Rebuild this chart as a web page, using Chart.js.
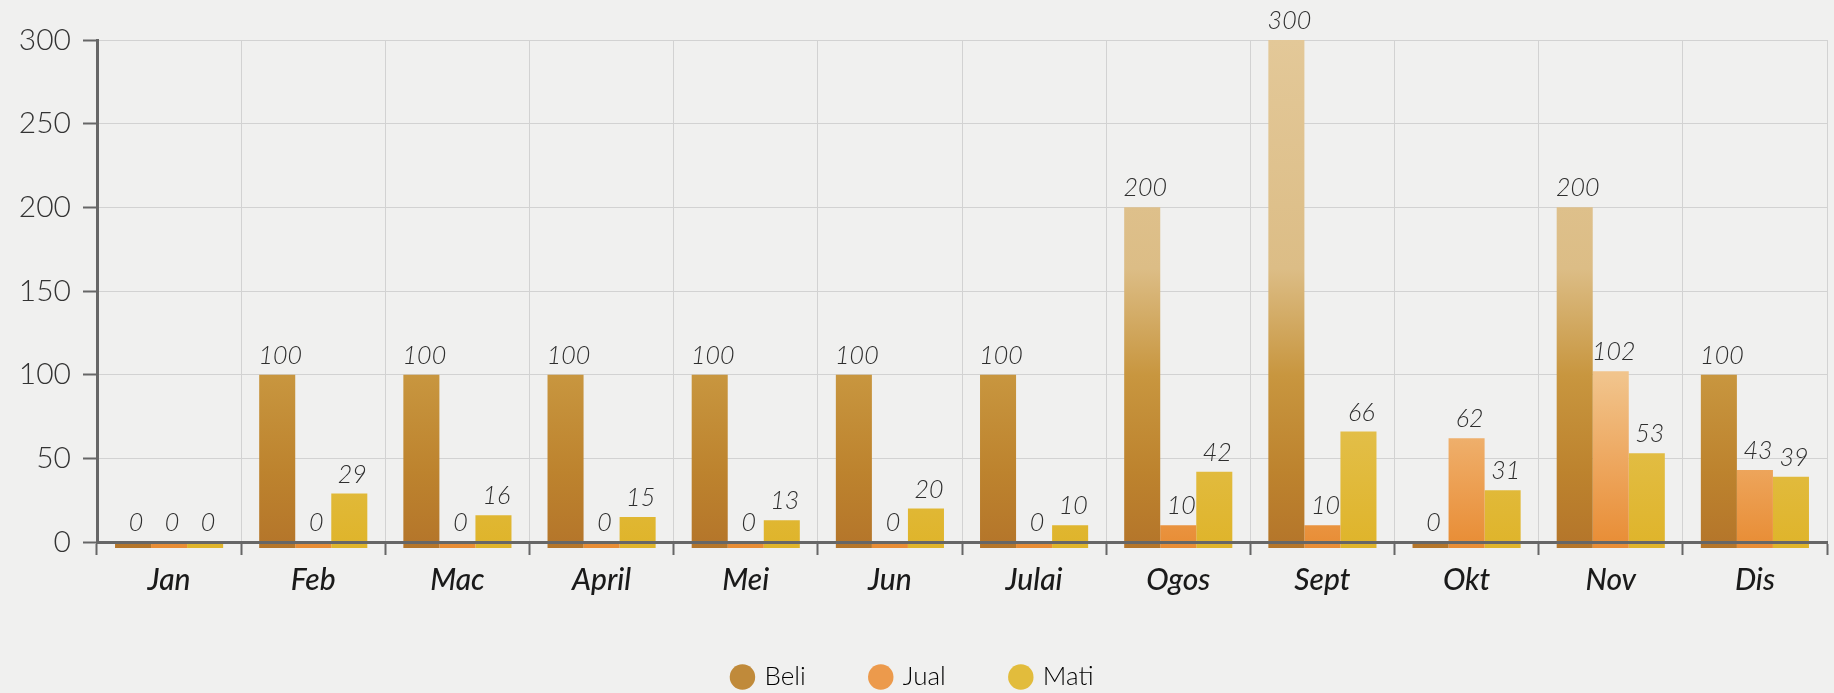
<!DOCTYPE html>
<html>
<head>
<meta charset="utf-8">
<script src="https://cdn.jsdelivr.net/npm/chart.js@4.4.1/dist/chart.umd.min.js"></script>
<style>
  html, body { margin: 0; padding: 0; background: #f0f0ef; }
  #wrap { position: relative; width: 1834px; height: 693px; }
</style>
</head>
<body>
<div id="wrap"><canvas id="barChart"></canvas></div>
<script>
var months = ["Jan", "Feb", "Mac", "April", "Mei", "Jun", "Julai", "Ogos", "Sept", "Okt", "Nov", "Dis"];
var beli = [0, 100, 100, 100, 100, 100, 100, 200, 300, 0, 200, 100];
var jual = [0, 0, 0, 0, 0, 0, 0, 10, 10, 62, 102, 43];
var mati = [0, 29, 16, 15, 13, 20, 10, 42, 66, 31, 53, 39];
var yTicks = [0, 50, 100, 150, 200, 250, 300];

var legendColors = ["#c08a3a", "#ec9a4c", "#e2bc3c"];

// colour stops down the whole plot area (top -> bottom)
var stops = {
  beli: [[0, "#e3c898"], [0.45, "#dcbd86"], [0.66, "#c8963f"], [0.85, "#bd832e"], [1, "#b4752a"]],
  jual: [[0, "#f6d6aa"], [0.66, "#f1c48c"], [0.85, "#eda45a"], [1, "#e88c34"]],
  mati: [[0, "#e9cc6a"], [0.66, "#e4c356"], [1, "#dfb42a"]]
};

function grad(name) {
  return function(c) {
    var area = c.chart.chartArea;
    if (!area) return legendColors[0];
    var g = c.chart.ctx.createLinearGradient(0, area.top, 0, area.bottom + 6);
    stops[name].forEach(function(s) { g.addColorStop(s[0], s[1]); });
    return g;
  };
}

var valueLabels = {
  id: 'valueLabels',
  afterDatasetsDraw: function(chart) {
    var ctx = chart.ctx;
    ctx.save();
    ctx.font = "italic 300 25px Lato";
    ctx.fillStyle = "#2e2e2e";
    ctx.textAlign = "center";
    ctx.textBaseline = "middle";
    chart.data.datasets.forEach(function(ds, i) {
      var meta = chart.getDatasetMeta(i);
      meta.data.forEach(function(bar, j) {
        ctx.fillText(ds.data[j], bar.x + 3, bar.y - 19);
      });
    });
    ctx.restore();
  }
};

var ctx = document.getElementById("barChart").getContext('2d');
var myBarChart = new Chart(ctx, {
  type: 'bar',
  data: {
    labels: months,
    datasets: [
      { label: "Beli", data: beli, backgroundColor: grad('beli'), base: -3.6, clip: false },
      { label: "Jual", data: jual, backgroundColor: grad('jual'), base: -3.6, clip: false },
      { label: "Mati", data: mati, backgroundColor: grad('mati'), base: -3.6, clip: false }
    ]
  },
  options: {
    responsive: true,
    maintainAspectRatio: false,
    animation: false,
    layout: { padding: { top: 40, right: 7, left: 0, bottom: -7 } },
    datasets: {
      bar: { categoryPercentage: 0.75, barPercentage: 1, borderWidth: 0 }
    },
    scales: {
      x: {
        grid: { color: "#d2d2d2", lineWidth: 1, tickLength: 13, tickColor: "#666", tickWidth: 2 },
        border: { color: "#666", width: 3, z: 1 },
        ticks: {
          color: "#1a1a1a",
          padding: 7,
          font: { family: "Lato", size: 30, style: "italic", weight: "500" }
        },
        afterFit: function(scale) { scale.height = 56; }
      },
      y: {
        min: 0,
        max: 300,
        afterBuildTicks: function(scale) {
          scale.ticks = yTicks.map(function(v) { return { value: v }; });
        },
        grid: { color: "#d2d2d2", lineWidth: 1, tickLength: 14, tickColor: "#666", tickWidth: 2 },
        border: { color: "#666", width: 3 },
        ticks: {
          color: "#333",
          padding: 12,
          font: { family: "Lato", size: 30, weight: "300" }
        },
        afterFit: function(scale) { scale.width = 97; }
      }
    },
    plugins: {
      tooltip: { enabled: false },
      legend: {
        display: true,
        position: "bottom",
        labels: {
          usePointStyle: true,
          pointStyle: "circle",
          boxWidth: 18,
          boxHeight: 18,
          padding: 66,
          color: "#333",
          font: { family: "Lato", size: 26, weight: "300" },
          generateLabels: function(chart) {
            return chart.data.datasets.map(function(ds, i) {
              return {
                text: ds.label,
                fillStyle: legendColors[i],
                strokeStyle: legendColors[i],
                lineWidth: 0,
                pointStyle: "circle",
                hidden: false,
                datasetIndex: i
              };
            });
          }
        }
      }
    }
  },
  plugins: [valueLabels]
});
</script>
</body>
</html>
